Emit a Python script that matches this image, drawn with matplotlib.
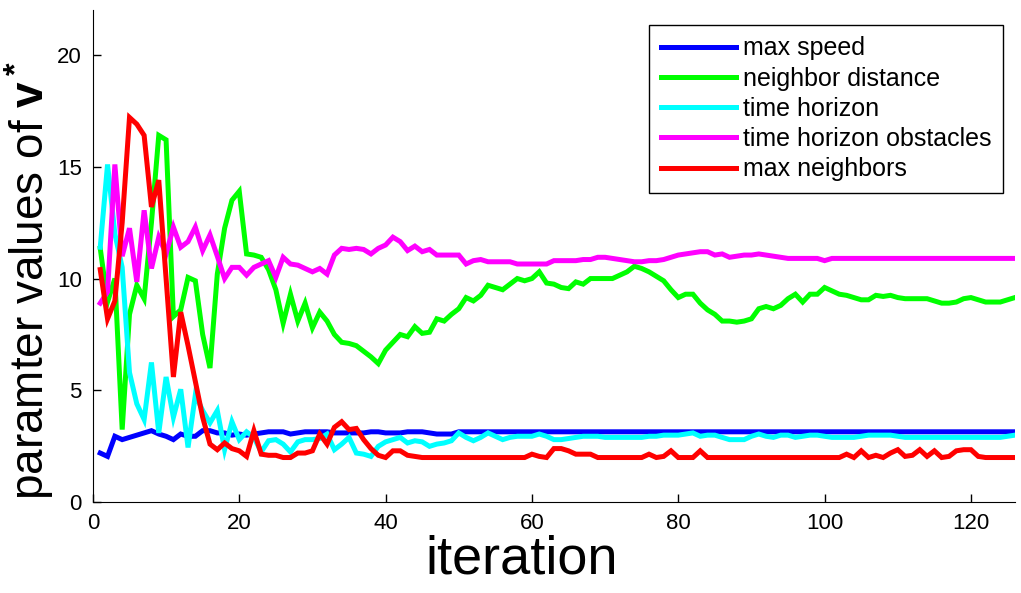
import matplotlib
import matplotlib.pyplot as plt
import numpy as np

matplotlib.use("Agg")

plt.rcParams['font.family'] = ['Liberation Sans', 'DejaVu Sans']
plt.rcParams['mathtext.fontset'] = 'custom'
plt.rcParams['mathtext.rm'] = 'Liberation Sans'
plt.rcParams['mathtext.bf'] = 'Liberation Sans:bold'

iterations = np.arange(1, 127)

max_speed = [
    2.2, 2.05, 2.95, 2.8, 2.9, 3.0, 3.1, 3.2, 3.05, 2.95,
    2.8, 3.05, 2.95, 2.95, 3.2, 3.2, 3.1, 3.1, 3.0, 3.05,
    3.0, 3.05, 3.1, 3.15, 3.15, 3.15, 3.05, 3.1, 3.15, 3.15,
    3.15, 3.15, 3.1, 3.1, 3.1, 3.1, 3.1, 3.15, 3.15, 3.1,
    3.1, 3.1, 3.15, 3.15, 3.15, 3.1, 3.05, 3.05, 3.05, 3.15,
    3.15, 3.15, 3.15, 3.15, 3.15, 3.15, 3.15, 3.15, 3.15, 3.15,
    3.15, 3.15, 3.15, 3.15, 3.15, 3.15, 3.15, 3.15, 3.15, 3.15,
    3.15, 3.15, 3.15, 3.15, 3.15, 3.15, 3.15, 3.15, 3.15, 3.15,
    3.15, 3.15, 3.15, 3.15, 3.15, 3.15, 3.15, 3.15, 3.15, 3.15,
    3.15, 3.15, 3.15, 3.15, 3.15, 3.15, 3.15, 3.15, 3.15, 3.15,
    3.15, 3.15, 3.15, 3.15, 3.15, 3.15, 3.15, 3.15, 3.15, 3.15,
    3.15, 3.15, 3.15, 3.15, 3.15, 3.15, 3.15, 3.15, 3.15, 3.15,
    3.15, 3.15, 3.15, 3.15, 3.15, 3.15,
]

neighbor_distance = [
    11.35, 8.95, 10.0, 3.25, 8.4, 9.7, 9.1, 12.5, 16.4, 16.2,
    8.3, 8.6, 10.05, 9.9, 7.5, 6.0, 10.2, 12.25, 13.5, 13.9,
    11.1, 11.05, 10.95, 10.4, 9.5, 8.0, 9.3, 8.1, 8.9, 7.8,
    8.5, 8.1, 7.5, 7.15, 7.1, 7.0, 6.75, 6.5, 6.2, 6.8,
    7.15, 7.5, 7.4, 7.85, 7.55, 7.6, 8.2, 8.1, 8.4, 8.65,
    9.15, 9.0, 9.25, 9.7, 9.6, 9.5, 9.75, 10.0, 9.9, 10.0,
    10.3, 9.8, 9.75, 9.6, 9.55, 9.85, 9.75, 10.0, 10.0, 10.0,
    10.0, 10.15, 10.3, 10.55, 10.45, 10.3, 10.1, 9.9, 9.5, 9.15,
    9.3, 9.3, 8.9, 8.6, 8.4, 8.1, 8.1, 8.05, 8.1, 8.2,
    8.65, 8.75, 8.65, 8.8, 9.1, 9.3, 8.95, 9.3, 9.3, 9.6,
    9.45, 9.3, 9.25, 9.15, 9.05, 9.05, 9.25, 9.2, 9.25, 9.15,
    9.1, 9.1, 9.1, 9.1, 9.0, 8.9, 8.9, 8.95, 9.1, 9.15,
    9.05, 8.95, 8.95, 8.95, 9.05, 9.15,
]

time_horizon = [
    11.4, 15.1, 12.0, 10.5, 5.8, 4.4, 3.7, 6.25, 3.1, 5.6,
    3.8, 5.05, 2.45, 4.8, 4.1, 3.55, 4.1, 2.35, 3.6, 2.8,
    3.15, 2.9, 2.25, 2.75, 2.8, 2.6, 2.25, 2.7, 2.8, 2.8,
    2.85, 3.05, 2.35, 2.6, 2.9, 2.2, 2.15, 2.05, 2.5, 2.7,
    2.8, 2.9, 2.65, 2.75, 2.7, 2.5, 2.6, 2.65, 2.75, 3.1,
    2.9, 2.75, 2.9, 3.1, 2.95, 2.8, 2.9, 2.95, 2.95, 2.95,
    3.05, 2.95, 2.8, 2.8, 2.85, 2.9, 2.95, 2.95, 2.95, 2.9,
    2.9, 2.9, 2.9, 2.9, 2.9, 2.95, 2.95, 3.0, 3.0, 3.0,
    3.05, 3.1, 2.95, 3.0, 3.0, 2.9, 2.8, 2.8, 2.8, 2.95,
    3.05, 2.95, 2.9, 3.0, 3.0, 2.9, 2.95, 3.0, 3.0, 2.95,
    2.9, 2.9, 2.9, 2.9, 2.95, 3.0, 3.0, 3.0, 3.0, 2.95,
    2.9, 2.9, 2.9, 2.9, 2.9, 2.9, 2.9, 2.9, 2.9, 2.9,
    2.9, 2.9, 2.9, 2.9, 2.95, 3.0,
]

time_horizon_obstacles = [
    8.9, 9.4, 15.1, 11.0, 12.25, 9.85, 13.05, 10.45, 11.85, 11.1,
    12.3, 11.4, 11.65, 12.3, 11.25, 11.95, 11.0, 10.0, 10.5, 10.5,
    10.15, 10.5, 10.65, 10.8, 10.05, 10.95, 10.65, 10.6, 10.45, 10.3,
    10.45, 10.2, 11.05, 11.35, 11.3, 11.35, 11.3, 11.1, 11.35, 11.5,
    11.85, 11.65, 11.25, 11.45, 11.2, 11.3, 11.05, 11.05, 11.05, 11.05,
    10.65, 10.8, 10.85, 10.75, 10.75, 10.75, 10.75, 10.65, 10.65, 10.65,
    10.65, 10.65, 10.8, 10.8, 10.8, 10.8, 10.85, 10.85, 10.95, 10.95,
    10.9, 10.85, 10.8, 10.75, 10.75, 10.8, 10.8, 10.85, 10.95, 11.05,
    11.1, 11.15, 11.2, 11.2, 11.05, 11.1, 10.95, 11.0, 11.05, 11.05,
    11.1, 11.05, 11.0, 10.95, 10.9, 10.9, 10.9, 10.9, 10.9, 10.8,
    10.9, 10.9, 10.9, 10.9, 10.9, 10.9, 10.9, 10.9, 10.9, 10.9,
    10.9, 10.9, 10.9, 10.9, 10.9, 10.9, 10.9, 10.9, 10.9, 10.9,
    10.9, 10.9, 10.9, 10.9, 10.9, 10.9,
]

max_neighbors = [
    10.4, 8.2, 9.0, 12.5, 17.2, 16.9, 16.4, 13.2, 14.4, 10.0,
    5.6, 8.5, 7.0, 5.4, 3.8, 2.6, 2.35, 2.65, 2.4, 2.3,
    2.05, 3.2, 2.15, 2.1, 2.1, 2.0, 2.0, 2.2, 2.2, 2.3,
    3.05, 2.6, 3.35, 3.6, 3.25, 3.3, 2.8, 2.4, 2.1, 2.0,
    2.3, 2.3, 2.1, 2.05, 2.0, 2.0, 2.0, 2.0, 2.0, 2.0,
    2.0, 2.0, 2.0, 2.0, 2.0, 2.0, 2.0, 2.0, 2.0, 2.15,
    2.05, 2.0, 2.4, 2.4, 2.3, 2.15, 2.15, 2.15, 2.0, 2.0,
    2.0, 2.0, 2.0, 2.0, 2.0, 2.15, 2.0, 2.05, 2.3, 2.0,
    2.0, 2.0, 2.3, 2.0, 2.0, 2.0, 2.0, 2.0, 2.0, 2.0,
    2.0, 2.0, 2.0, 2.0, 2.0, 2.0, 2.0, 2.0, 2.0, 2.0,
    2.0, 2.0, 2.15, 2.0, 2.3, 2.0, 2.1, 2.0, 2.2, 2.35,
    2.05, 2.1, 2.35, 2.05, 2.3, 2.0, 2.05, 2.3, 2.35, 2.35,
    2.05, 2.0, 2.0, 2.0, 2.0, 2.0,
]

series = [
    (max_speed, 'max speed', (0, 0, 1)),
    (neighbor_distance, 'neighbor distance', (0, 1, 0)),
    (time_horizon, 'time horizon', (0, 1, 1)),
    (time_horizon_obstacles, 'time horizon obstacles', (1, 0, 1)),
    (max_neighbors, 'max neighbors', (1, 0, 0)),
]

fig = plt.figure(figsize=(10.21, 5.93), dpi=100)
ax = fig.add_axes([0.091, 0.153, 0.903, 0.83])

for values, label, color in series:
    ax.plot(iterations, values, color=color, linewidth=3.6, label=label,
            solid_joinstyle='miter')

ax.set_xlim(0, 126)
ax.set_ylim(0, 22)
ax.set_xticks([0, 20, 40, 60, 80, 100, 120])
ax.set_yticks([0, 5, 10, 15, 20])
ax.tick_params(direction='in', length=6, width=1, labelsize=16, pad=8)
ax.spines['top'].set_visible(False)
ax.spines['right'].set_visible(False)

ax.set_xlabel('iteration', fontsize=39)
ax.set_ylabel(r'paramter values of $\mathbf{v^*}$', fontsize=33)
ax.xaxis.set_label_coords(0.465, -0.065, transform=ax.transAxes)
ax.yaxis.set_label_coords(-0.04, 0.45, transform=ax.transAxes)
ax.xaxis.label.set_va('top')
ax.yaxis.label.set_va('bottom')

leg = ax.legend(loc='upper right', bbox_to_anchor=(0.987, 0.9695),
                borderaxespad=0, fontsize=18,
                fancybox=False, framealpha=1, edgecolor='black',
                handlelength=3.0, handletextpad=0.3, labelspacing=0.25,
                borderpad=0.45)
leg.get_frame().set_linewidth(1.0)

fig.savefig('out.png', dpi=100)
